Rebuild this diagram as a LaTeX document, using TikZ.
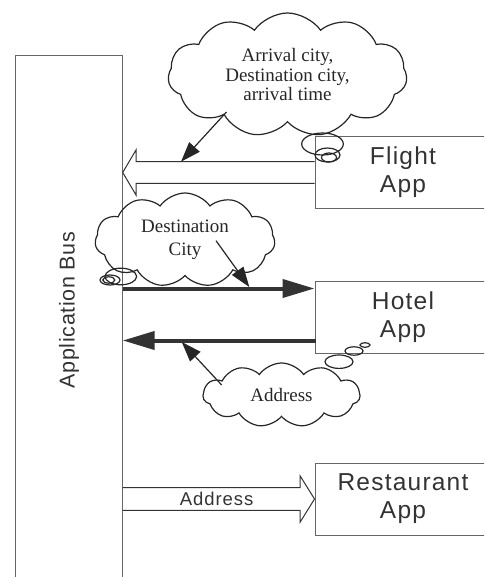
\documentclass[tikz,border=0pt]{standalone}
\usepackage{fontspec}
\setmainfont{Liberation Serif}
\newfontfamily\appfont[LetterSpace=5]{Liberation Sans}
\newfontfamily\busfont[LetterSpace=3]{Liberation Sans}
\usetikzlibrary{shapes.symbols,arrows.meta,calc}

\begin{document}
\begin{tikzpicture}[x=1pt,y=-1pt,
  appbox/.style={draw=black!60, line width=1pt, minimum width=176pt, minimum height=72pt, align=center, text=black!80, font=\appfont\fontsize{24.5}{28}\selectfont},
  thought/.style={cloud, draw=black!85, line width=1.2pt, cloud puffs=11, cloud puff arc=110, cloud ignores aspect, inner sep=0pt, align=center, text=black!85},
  bubble/.style={draw=black!85, line width=1.2pt},
  hollow/.style={draw=black!80, line width=1pt, line join=miter},
  busarrow/.style={draw=black!80, line width=4pt, -{Triangle[length=32pt,width=18pt]}},
  pointer/.style={draw=black!85, line width=1.2pt, -{Triangle[length=20pt,width=14pt]}}]
\useasboundingbox (0,0) rectangle (484,577);
\clip (0,0) rectangle (484,577);

% bus and apps
\node[draw=black!60, line width=1pt, minimum width=106.7pt, minimum height=560pt, anchor=north west] (bus) at (15,55) {};
\node[rotate=90, text=black!80, font=\busfont\fontsize{21.5}{24}\selectfont] (buslabel) at (69,310) {Application Bus};

\node[appbox] (flight) at (403,172.5) {Flight\\App};
\node[appbox] (hotel) at (403,317) {Hotel\\App};
\node[appbox] (rest) at (403,499) {Restaurant\\App};

% flight -> bus
\coordinate (ftip) at (bus.east |- flight.west);
\draw[hollow] ($(flight.west)+(0,-10.8)$) -- ($(ftip)+(13.3,-10.8)$) -- ($(ftip)+(13.3,-22.5)$) -- (ftip)
  -- ($(ftip)+(13.3,22.5)$) -- ($(ftip)+(13.3,10.8)$) -- ($(flight.west)+(0,10.8)$);

% bus <-> hotel
\coordinate (hin) at ($(hotel.north west)+(0,8)$);
\coordinate (hout) at ($(hotel.south west)+(1.5,-13)$);
\draw[busarrow] (bus.east |- hin) -- (hin);
\draw[busarrow] (hout) -- (bus.east |- hout);

% bus -> restaurant
\coordinate (rtail) at (bus.east |- rest.west);
\draw[hollow] ($(rtail)+(0,-11.3)$) -- ($(rest.west)+(-14.3,-11.3)$) -- ($(rest.west)+(-14.3,-23)$) -- (rest.west)
  -- ($(rest.west)+(-14.3,23)$) -- ($(rest.west)+(-14.3,11.3)$) -- ($(rtail)+(0,11.3)$);
\node[text=black!80, font=\appfont\fontsize{18.5}{20}\selectfont] (addr) at ($(rtail)!0.5!(rest.west)+(-2,-0.5)$) {Address};

% thought clouds
\node[thought, minimum width=239pt, minimum height=124pt, font=\fontsize{19}{19.5}\selectfont] (c1) at (287.5,75) {Arrival city,\\Destination city,\\arrival time};
\node[thought, minimum width=180pt, minimum height=94pt, font=\fontsize{19}{23}\selectfont] (c2) at (185,240) {Destination\\City};
\node[thought, minimum width=157pt, minimum height=64pt, font=\fontsize{19}{19}\selectfont] (c3) at (281.5,395) {Address};

\draw[bubble] (322.5,144) ellipse [x radius=20.8, y radius=11];
\draw[bubble] (327.5,155) ellipse [x radius=12.5, y radius=7];
\draw[bubble] (329,157.5) ellipse [x radius=7.5, y radius=4.5];

\draw[bubble] (120.8,276.5) ellipse [x radius=15.8, y radius=8.3];
\draw[bubble] (110,280) ellipse [x radius=10, y radius=5];
\draw[bubble] (108.8,280) ellipse [x radius=6, y radius=3.2];

\draw[bubble] (339,361.7) ellipse [x radius=14, y radius=6.7];
\draw[bubble] (354,351) ellipse [x radius=9, y radius=4.2];
\draw[bubble] (365,345) ellipse [x radius=5, y radius=2.3];

% pointers
\coordinate (p1) at (226.5,112);
\coordinate (q1) at (181,161.7);
\coordinate (p2) at (216,240.7);
\coordinate (q2) at (249.3,287);
\coordinate (p3) at (221.7,385);
\coordinate (q3) at (181.7,342);
\draw[pointer] (p1) -- (q1);
\draw[pointer] (p2) -- (q2);
\draw[pointer] (p3) -- (q3);
\end{tikzpicture}
\end{document}
